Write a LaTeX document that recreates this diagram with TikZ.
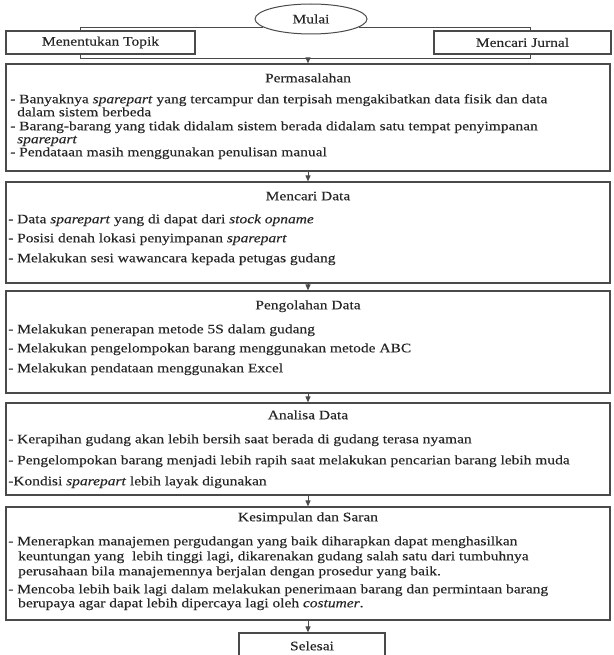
\documentclass[tikz,border=0pt]{standalone}
\usepackage{fontspec}
\setmainfont{Liberation Serif}[FakeStretch=1.19,FakeBold=0.25]
\usetikzlibrary{arrows.meta,shapes.geometric}
\definecolor{ink}{HTML}{262626}
\definecolor{edge}{HTML}{4A4A4A}
\begin{document}
\begin{tikzpicture}[x=1pt,y=-1pt,
  box/.style={draw=edge, line width=1.2pt, rectangle, inner sep=0pt},
  conn/.style={draw=edge, line width=0.9pt},
  arr/.style={conn, -{Triangle[width=5pt,length=6pt]}},
  ln/.style={anchor=mid west, inner sep=0pt, text=ink, font=\fontsize{13}{15}\selectfont},
  ttl/.style={anchor=mid, inner sep=0pt, text=ink, font=\fontsize{13}{15}\selectfont}]
\useasboundingbox (0,0) rectangle (613,655);
\clip (0,0) rectangle (613,655);
% top
\node[draw=edge, line width=1pt, ellipse, minimum width=112pt, minimum height=30pt, inner sep=0pt, text=ink, font=\fontsize{13}{15}\selectfont] (mulai) at (311,19) {Mulai};
\node[box, minimum width=189pt, minimum height=23pt, text=ink, font=\fontsize{13}{15}\selectfont] (topik) at (100.5,42.5) {Menentukan Topik};
\node[box, minimum width=177pt, minimum height=23pt, text=ink, font=\fontsize{13}{15}\selectfont] (jurnal) at (522.5,42.5) {Mencari Jurnal};
% boxes
\node[box, minimum width=604pt, minimum height=107pt] (perm) at (308,117.5) {};
\node[box, minimum width=604pt, minimum height=101pt] (data) at (308,232.5) {};
\node[box, minimum width=604pt, minimum height=102pt] (olah) at (308,342) {};
\node[box, minimum width=604pt, minimum height=92pt] (anal) at (308,449) {};
\node[box, minimum width=604pt, minimum height=113pt] (kesim) at (308,563.5) {};
\node[box, minimum width=146pt, minimum height=32pt] (selesai) at (312,649) {};
% connectors
\coordinate (m) at (308,58);
\draw[conn] (mulai.190) -| ([xshift=-20.5pt]topik.north);
\draw[conn] (mulai.-10) -| ([xshift=7.5pt]jurnal.north);
\draw[conn] ([xshift=-20.5pt]topik.south) |- (m);
\draw[conn] ([xshift=7.5pt]jurnal.south) |- (m);
\draw[arr] (m) -- (perm.north);
\draw[arr] (perm.south) -- (data.north);
\draw[arr] (data.south) -- (olah.north);
\draw[arr] (olah.south) -- (anal.north);
\draw[arr] (anal.south) -- (kesim.north);
\draw[arr] (kesim.south) -- (kesim.south |- selesai.north);
% Permasalahan
\node[ttl] (t1) at (308,80) {Permasalahan};
\node[ln] (p1) at (10,101) {- Banyaknya \textit{sparepart} yang tercampur dan terpisah mengakibatkan data fisik dan data};
\node[ln] (p2) at (17,114) {dalam sistem berbeda};
\node[ln] (p3) at (10,128) {- Barang-barang yang tidak didalam sistem berada didalam satu tempat penyimpanan};
\node[ln] (p4) at (17,141) {\textit{sparepart}};
\node[ln] (p5) at (10,154) {- Pendataan masih menggunakan penulisan manual};
% Mencari Data
\node[ttl] (t2) at (308,198) {Mencari Data};
\node[ln] (d1) at (8,221) {- Data \textit{sparepart} yang di dapat dari \textit{stock opname}};
\node[ln] (d2) at (8,240) {- Posisi denah lokasi penyimpanan \textit{sparepart}};
\node[ln] (d3) at (8,260) {- Melakukan sesi wawancara kepada petugas gudang};
% Pengolahan Data
\node[ttl] (t3) at (308,307) {Pengolahan Data};
\node[ln] (o1) at (8,331) {- Melakukan penerapan metode 5S dalam gudang};
\node[ln] (o2) at (8,350) {- Melakukan pengelompokan barang menggunakan metode ABC};
\node[ln] (o3) at (8,370) {- Melakukan pendataan menggunakan Excel};
% Analisa Data
\node[ttl] (t4) at (308,417) {Analisa Data};
\node[ln] (a1) at (8,441) {- Kerapihan gudang akan lebih bersih saat berada di gudang terasa nyaman};
\node[ln] (a2) at (8,462) {- Pengelompokan barang menjadi lebih rapih saat melakukan pencarian barang lebih muda};
\node[ln] (a3) at (8,483) {-Kondisi \textit{sparepart} lebih layak digunakan};
% Kesimpulan
\node[ttl] (t5) at (308,519) {Kesimpulan dan Saran};
\node[ln] (k1) at (8,543) {- Menerapkan manajemen pergudangan yang baik diharapkan dapat menghasilkan};
\node[ln] (k2) at (18,558) {keuntungan yang\ \ lebih tinggi lagi, dikarenakan gudang salah satu dari tumbuhnya};
\node[ln] (k3) at (18,573) {perusahaan bila manajemennya berjalan dengan prosedur yang baik.};
\node[ln] (k4) at (8,591) {- Mencoba lebih baik lagi dalam melakukan penerimaan barang dan permintaan barang};
\node[ln] (k5) at (18,605) {berupaya agar dapat lebih dipercaya lagi oleh \textit{costumer}.};
\node[ttl] (s1) at (312,648) {Selesai};
\end{tikzpicture}
\end{document}
